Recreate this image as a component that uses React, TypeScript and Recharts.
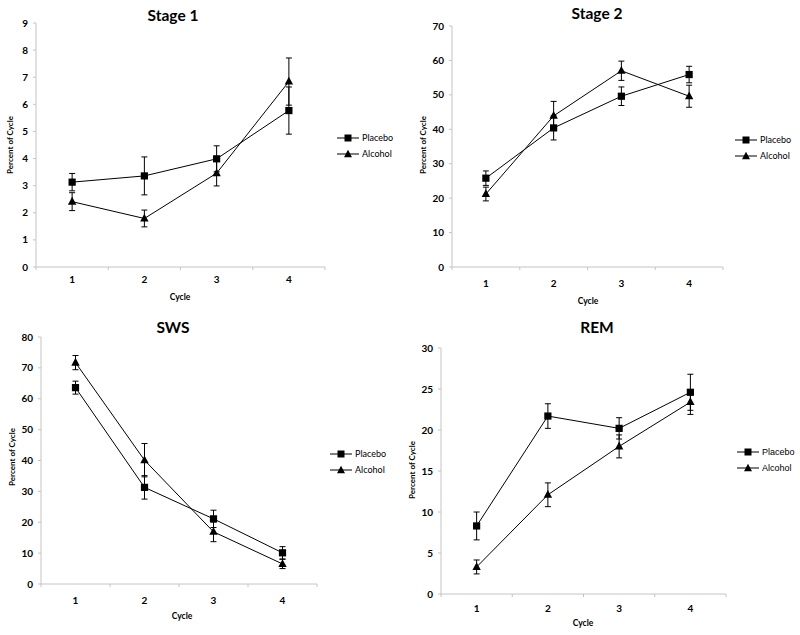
import React from 'react';
import { LineChart, Line, XAxis, YAxis, ErrorBar, Legend } from 'recharts';

const cycles = [1, 2, 3, 4];
const xTickValues = [0.5, 1, 1.5, 2, 2.5, 3, 3.5, 4, 4.5];
const seriesNames = ['Placebo', 'Alcohol'];

const stage1Placebo = [3.13, 3.36, 3.99, 5.77];
const stage1PlaceboErr = [0.32, 0.7, 0.48, 0.87];
const stage1Alcohol = [2.41, 1.79, 3.46, 6.84];
const stage1AlcoholErr = [0.33, 0.31, 0.47, 0.87];
const stage1Ticks = [0, 1, 2, 3, 4, 5, 6, 7, 8, 9];

const stage2Placebo = [25.8, 40.4, 49.6, 55.9];
const stage2PlaceboErr = [2.1, 3.5, 2.7, 2.4];
const stage2Alcohol = [21.2, 43.9, 57.0, 49.6];
const stage2AlcoholErr = [2.0, 4.2, 2.8, 3.2];
const stage2Ticks = [0, 10, 20, 30, 40, 50, 60, 70];

const swsPlacebo = [63.6, 31.3, 21.1, 10.1];
const swsPlaceboErr = [2.1, 3.8, 2.8, 2.0];
const swsAlcohol = [71.7, 40.1, 16.9, 6.5];
const swsAlcoholErr = [2.3, 5.4, 3.2, 1.5];
const swsTicks = [0, 10, 20, 30, 40, 50, 60, 70, 80];

const remPlacebo = [8.3, 21.7, 20.2, 24.6];
const remPlaceboErr = [1.7, 1.5, 1.3, 2.2];
const remAlcohol = [3.3, 12.1, 18.0, 23.4];
const remAlcoholErr = [0.85, 1.45, 1.4, 1.5];
const remTicks = [0, 5, 10, 15, 20, 25, 30];

type Row = { cycle: number; placebo: number; placeboErr: number; alcohol: number; alcoholErr: number };

function buildData(p: number[], pe: number[], a: number[], ae: number[]): Row[] {
  return cycles.map((c, i) => ({ cycle: c, placebo: p[i], placeboErr: pe[i], alcohol: a[i], alcoholErr: ae[i] }));
}

const FONT = 'Lato, "Open Sans", sans-serif';
const AXIS_GRAY = '#c4c4c4';

const SquareDot = (props: any) => {
  const { cx, cy, index } = props;
  if (cx == null || cy == null) return <g key={`s${index}`} />;
  return <rect key={`s${index}`} x={cx - 3.6} y={cy - 3.6} width={7.2} height={7.2} fill="#000" />;
};

const TriangleDot = (props: any) => {
  const { cx, cy, index } = props;
  if (cx == null || cy == null) return <g key={`t${index}`} />;
  return (
    <polygon
      key={`t${index}`}
      points={`${cx},${cy - 4.8} ${cx - 4.2},${cy + 3} ${cx + 4.2},${cy + 3}`}
      fill="#000"
    />
  );
};

const makeXTick = (offset: number) => (props: any) => {
  const { x, y, payload } = props;
  const v = payload.value;
  if (Number.isInteger(v)) {
    return (
      <text x={x} y={y + offset} textAnchor="middle" dominantBaseline="central" fontSize={10} fontWeight={700} fontFamily={FONT} fill="#000">
        {v}
      </text>
    );
  }
  return <line x1={x} x2={x} y1={y} y2={y + 3} stroke={AXIS_GRAY} />;
};

const makeLegend = (font: string) => () => {
  return (
    <div style={{ fontFamily: font }}>
      {seriesNames.map((name: string, i: number) => (
        <div key={name} style={{ display: 'flex', alignItems: 'center', height: 15.5 }}>
          <svg width={22} height={10} style={{ display: 'block' }}>
            <line x1={0} x2={22} y1={5} y2={5} stroke="#000" strokeWidth={1} />
            {i === 0 ? (
              <rect x={7.5} y={1.5} width={7} height={7} fill="#000" />
            ) : (
              <polygon points="11,0.8 7,8.2 15,8.2" fill="#000" />
            )}
          </svg>
          <span style={{ marginLeft: 3, fontSize: 9, color: '#000', lineHeight: '10px' }}>{name}</span>
        </div>
      ))}
    </div>
  );
};

type PanelProps = {
  title: string;
  data: Row[];
  yTicks: number[];
  plot: { x: number; y: number; w: number; h: number };
  titlePos: [number, number];
  yLabelPos: [number, number];
  cyclePos: [number, number];
  xTickOffset: number;
  legendPos: [number, number];
  legendFont: string;
};

const Panel = (p: PanelProps) => {
  const chartLeft = p.plot.x - 40;
  const chartTop = p.plot.y - 10;
  const width = p.plot.w + 40 + 80;
  const height = p.plot.h + 10 + 10 + 30;
  const yMax = p.yTicks[p.yTicks.length - 1];
  return (
    <>
      <div
        style={{
          position: 'absolute',
          left: p.titlePos[0] - 100,
          top: p.titlePos[1] - 11,
          width: 200,
          height: 22,
          lineHeight: '22px',
          textAlign: 'center',
          fontFamily: FONT,
          fontWeight: 700,
          fontSize: 15.5,
          color: '#000',
        }}
      >
        {p.title}
      </div>
      <div
        style={{
          position: 'absolute',
          left: p.yLabelPos[0] - 60,
          top: p.yLabelPos[1] - 6,
          width: 120,
          height: 12,
          lineHeight: '12px',
          textAlign: 'center',
          fontFamily: FONT,
          fontWeight: 700,
          fontSize: 8,
          color: '#000',
          transform: 'rotate(-90deg)',
        }}
      >
        Percent of Cycle
      </div>
      <div
        style={{
          position: 'absolute',
          left: p.cyclePos[0] - 40,
          top: p.cyclePos[1] - 6,
          width: 80,
          height: 12,
          lineHeight: '12px',
          textAlign: 'center',
          fontFamily: FONT,
          fontWeight: 700,
          fontSize: 8.5,
          color: '#000',
        }}
      >
        Cycle
      </div>
      <div style={{ position: 'absolute', left: chartLeft, top: chartTop, width, height }}>
        <LineChart width={width} height={height} data={p.data} margin={{ top: 10, left: 10, right: 80, bottom: 10 }}>
          <XAxis
            dataKey="cycle"
            type="number"
            domain={[0.5, 4.5]}
            ticks={xTickValues}
            interval={0}
            tickLine={false}
            tickSize={0}
            tickMargin={0}
            height={30}
            axisLine={{ stroke: AXIS_GRAY }}
            tick={makeXTick(p.xTickOffset)}
            allowDecimals
          />
          <YAxis
            type="number"
            domain={[0, yMax]}
            ticks={p.yTicks}
            interval={0}
            width={30}
            tickSize={3}
            tickMargin={5}
            axisLine={{ stroke: AXIS_GRAY }}
            tickLine={{ stroke: AXIS_GRAY }}
            tick={{ fontSize: 10, fontWeight: 700, fill: '#000', fontFamily: FONT }}
          />
          <Legend
            layout="vertical"
            align="center"
            verticalAlign="middle"
            content={makeLegend(p.legendFont)}
            wrapperStyle={{ left: p.legendPos[0] - chartLeft, top: p.legendPos[1] - 7.75 - chartTop, width: 70 }}
          />
          <Line
            dataKey="placebo"
            name={seriesNames[0]}
            stroke="#000"
            strokeWidth={1}
            dot={SquareDot}
            activeDot={false}
            isAnimationActive={false}
          >
            <ErrorBar dataKey="placeboErr" width={3} stroke="#000" strokeWidth={1} direction="y" isAnimationActive={false} />
          </Line>
          <Line
            dataKey="alcohol"
            name={seriesNames[1]}
            stroke="#000"
            strokeWidth={1}
            dot={TriangleDot}
            activeDot={false}
            isAnimationActive={false}
          >
            <ErrorBar dataKey="alcoholErr" width={3} stroke="#000" strokeWidth={1} direction="y" isAnimationActive={false} />
          </Line>
        </LineChart>
      </div>
    </>
  );
};

export default function App() {
  return (
    <div style={{ position: 'absolute', left: 0, top: 0, width: 800, height: 635, background: '#fff', overflow: 'hidden' }}>
      <Panel
        title="Stage 1"
        data={buildData(stage1Placebo, stage1PlaceboErr, stage1Alcohol, stage1AlcoholErr)}
        yTicks={stage1Ticks}
        plot={{ x: 36, y: 23, w: 289, h: 244 }}
        titlePos={[173, 15]}
        yLabelPos={[10, 145]}
        cyclePos={[180, 297]}
        xTickOffset={12}
        legendPos={[337, 138]}
        legendFont={FONT}
      />
      <Panel
        title="Stage 2"
        data={buildData(stage2Placebo, stage2PlaceboErr, stage2Alcohol, stage2AlcoholErr)}
        yTicks={stage2Ticks}
        plot={{ x: 452, y: 26, w: 271, h: 241 }}
        titlePos={[597, 13]}
        yLabelPos={[423, 145]}
        cyclePos={[588, 301]}
        xTickOffset={16}
        legendPos={[735, 140]}
        legendFont={FONT}
      />
      <Panel
        title="SWS"
        data={buildData(swsPlacebo, swsPlaceboErr, swsAlcohol, swsAlcoholErr)}
        yTicks={swsTicks}
        plot={{ x: 41, y: 337, w: 276, h: 247 }}
        titlePos={[173, 327]}
        yLabelPos={[12, 457]}
        cyclePos={[182, 616]}
        xTickOffset={16}
        legendPos={[330, 454]}
        legendFont={FONT}
      />
      <Panel
        title="REM"
        data={buildData(remPlacebo, remPlaceboErr, remAlcohol, remAlcoholErr)}
        yTicks={remTicks}
        plot={{ x: 441, y: 348, w: 285, h: 246 }}
        titlePos={[597, 327]}
        yLabelPos={[412, 470]}
        cyclePos={[583, 623]}
        xTickOffset={14}
        legendPos={[737, 452]}
        legendFont={'"Liberation Sans", Arial, sans-serif'}
      />
    </div>
  );
}
